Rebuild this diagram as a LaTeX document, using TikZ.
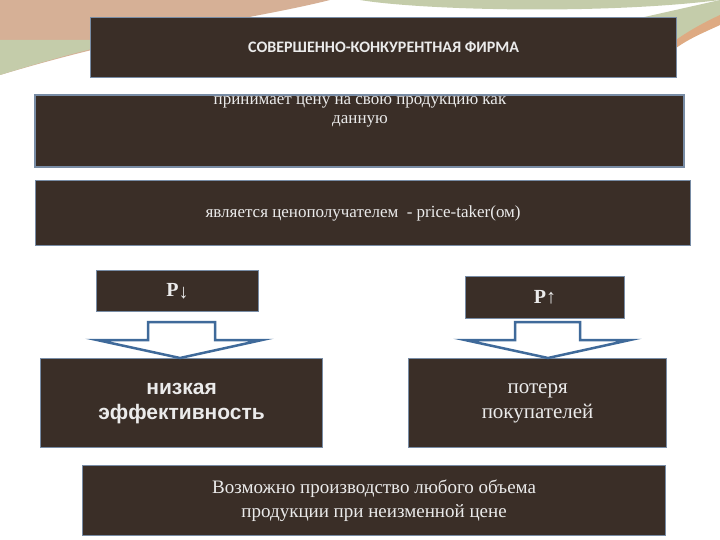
\documentclass[tikz,border=0pt]{standalone}
\usepackage{fontspec}
\setmainfont{Liberation Serif}
\newfontfamily\carl{Carlito}
\newfontfamily\lsans{Liberation Sans}
\definecolor{boxfill}{RGB}{58,46,39}
\definecolor{boxline}{RGB}{120,140,165}
\definecolor{peachb}{RGB}{214,176,150}
\definecolor{sage}{RGB}{196,204,170}
\definecolor{orng}{RGB}{222,170,130}
\definecolor{arrblue}{RGB}{63,106,154}
\begin{document}
\begin{tikzpicture}[x=1pt,y=-1pt,
  bx/.style={draw=boxline,line width=1.2pt,fill=boxfill,text=white!92!black,inner sep=0pt},
  arr/.style={draw=arrblue,line width=2.5pt,fill=white,line join=miter}]
\useasboundingbox (0,0) rectangle (720,540);
\fill[white] (0,0) rectangle (720,540);
\fill[peachb] (0,0) -- (330,0) .. controls (250,20) and (150,30) .. (0,75) -- cycle;
\fill[sage] (0,75) .. controls (80,50) and (110,45) .. (130,40) -- (0,40) -- cycle;
\fill[sage] (360,0) .. controls (420,10) and (600,15) .. (720,0) -- cycle;
\fill[sage] (640,18) -- (720,0) -- (720,20) .. controls (700,30) and (680,40) .. (670,50) -- cycle;
\fill[orng] (676,40) .. controls (690,30) and (705,22) .. (720,15) -- (720,25) .. controls (705,32) and (690,38) .. (676,48) -- cycle;
\node[bx,minimum width=586pt,minimum height=60pt,anchor=north west,font=\carl\bfseries\fontsize{16}{18}\selectfont] (t) at (90,17) {СОВЕРШЕННО-КОНКУРЕНТНАЯ ФИРМА};
\draw[bx] (35,95) rectangle (684,167);
\node[align=center,text=white!92!black,font=\fontsize{17}{19}\selectfont,anchor=north] (a) at (360,93) {принимает цену на свою продукцию как\\данную};
\node[bx,minimum width=655pt,minimum height=65pt,anchor=north west,font=\fontsize{17}{20}\selectfont] (b) at (35,180) {является ценополучателем\ \ - price-taker(ом)};
\node[bx,minimum width=162pt,minimum height=41pt,anchor=north west,font=\bfseries\fontsize{20}{22}\selectfont] (p1) at (96,270) {P\raisebox{-2pt}{\lsans\bfseries↓}};
\node[bx,minimum width=159pt,minimum height=42pt,anchor=north west,font=\bfseries\fontsize{20}{22}\selectfont] (p2) at (465,276) {P\lsans\bfseries↑};
\node[bx,minimum width=282pt,minimum height=89pt,anchor=north west,align=center,font=\lsans\bfseries\fontsize{21}{25}\selectfont] (l) at (40,358) {низкая\\эффективность};
\node[bx,minimum width=258pt,minimum height=89pt,anchor=north west,align=center,font=\fontsize{21}{25}\selectfont] (r) at (408,358) {потеря\\покупателей};
\node[bx,minimum width=583pt,minimum height=70pt,anchor=north west,align=center,font=\fontsize{19}{24}\selectfont] (c) at (82,465) {Возможно производство любого объема\\продукции при неизменной цене};
\draw[arr] (148,322) -- (215,322) -- (215,340) -- (262,340) -- (180,358) -- (97,340) -- (148,340) -- cycle;
\draw[arr] (515,322) -- (580,322) -- (580,340) -- (630,340) -- (548,358) -- (465,340) -- (515,340) -- cycle;
\end{tikzpicture}
\end{document}
